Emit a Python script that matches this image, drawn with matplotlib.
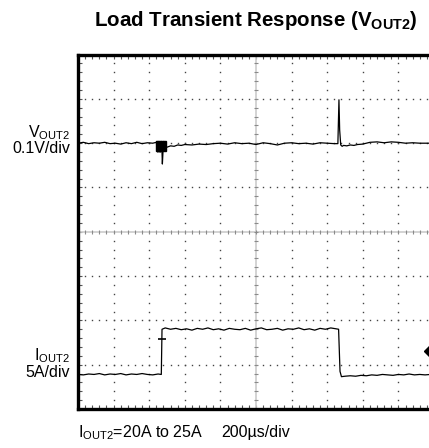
import matplotlib
matplotlib.use("Agg")
import matplotlib.pyplot as plt

plt.rcParams['font.family'] = ['Liberation Sans', 'DejaVu Sans']
plt.rcParams['mathtext.fontset'] = 'custom'
plt.rcParams['mathtext.rm'] = 'Liberation Sans'
plt.rcParams['mathtext.bf'] = 'Liberation Sans:bold'

# scope trace data, in screen divisions (10 x 8 grid)
vout_x = [0.0, 0.15, 0.3, 0.45, 0.6, 0.75, 0.9, 1.05, 1.2, 1.35, 1.5, 1.65, 1.8, 1.95,
          2.1, 2.2, 2.22, 2.24, 2.26, 2.28, 2.30, 2.32, 2.34, 2.36, 2.37, 2.39, 2.41,
          2.43, 2.45, 2.5, 2.6, 2.7, 2.8, 2.9, 3.0, 3.2, 3.4, 3.6, 3.8, 4.0, 4.2, 4.4,
          4.6, 4.8, 5.0, 5.2, 5.4, 5.6, 5.8, 6.0, 6.2, 6.4, 6.6, 6.8, 7.0, 7.2, 7.3,
          7.33, 7.35, 7.38, 7.42, 7.46, 7.55, 7.65, 7.75, 7.85, 8.0, 8.2, 8.4, 8.6,
          8.8, 9.0, 9.2, 9.4, 9.6, 9.8, 10.0]
vout_y = [6.0, 6.02, 5.99, 6.01, 6.0, 6.02, 5.99, 6.0, 5.98, 6.01, 5.99, 6.02, 5.99, 6.01,
          6.0, 6.02, 6.04, 5.80, 6.04, 5.80, 6.04, 5.80, 6.04, 5.80, 5.53, 5.85, 6.04,
          5.82, 5.92, 5.91, 5.94, 5.93, 5.96, 5.95, 5.97, 5.96, 5.98, 5.97, 5.99, 6.0,
          5.98, 6.01, 5.99, 6.0, 5.97, 6.01, 5.99, 5.96, 6.0, 6.01, 5.99, 6.0, 5.98,
          6.01, 6.0, 5.99, 5.99, 6.98, 6.3, 5.96, 5.93, 5.95, 5.94, 5.96, 5.95, 5.97,
          5.98, 6.02, 6.03, 6.01, 6.03, 6.02, 6.0, 6.01, 6.0, 6.0, 6.0]

iout_x = [0.0, 0.15, 0.3, 0.45, 0.6, 0.75, 0.9, 1.05, 1.2, 1.35, 1.5, 1.65, 1.8, 1.95,
          2.1, 2.25, 2.34, 2.36, 2.45, 2.6, 2.75, 2.9, 3.05, 3.2, 3.35, 3.5, 3.65, 3.8,
          3.95, 4.1, 4.25, 4.4, 4.55, 4.7, 4.85, 5.0, 5.15, 5.3, 5.45, 5.6, 5.75, 5.9,
          6.05, 6.2, 6.35, 6.5, 6.65, 6.8, 6.95, 7.1, 7.25, 7.32, 7.36, 7.40, 7.5,
          7.65, 7.8, 7.95, 8.1, 8.25, 8.4, 8.55, 8.7, 8.85, 9.0, 9.15, 9.3, 9.45, 9.6,
          9.75, 9.9, 10.0]
iout_y = [0.78, 0.77, 0.79, 0.78, 0.80, 0.77, 0.79, 0.78, 0.80, 0.77, 0.79, 0.78, 0.80,
          0.78, 0.77, 0.79, 0.78, 1.80, 1.83, 1.80, 1.82, 1.79, 1.81, 1.78, 1.82, 1.80,
          1.83, 1.79, 1.81, 1.78, 1.82, 1.80, 1.79, 1.82, 1.78, 1.81, 1.83, 1.79, 1.80,
          1.82, 1.78, 1.81, 1.80, 1.83, 1.79, 1.81, 1.78, 1.82, 1.80, 1.83, 1.81, 1.80,
          0.85, 0.73, 0.74, 0.75, 0.74, 0.76, 0.75, 0.77, 0.76, 0.78, 0.77, 0.76, 0.78,
          0.77, 0.79, 0.77, 0.78, 0.77, 0.78, 0.78]

# trigger markers
trig_v = (2.33, 5.93)
trig_i = (2.35, 1.58)
trig_level = (9.89, 1.32)

n_xdiv, n_ydiv = 10, 8

fig = plt.figure(figsize=(4.29, 4.48), dpi=100)
ax = fig.add_axes([78/429, 1 - 409/448, (434 - 78)/429, (409 - 54.6)/448])
ax.set_xlim(0, n_xdiv)
ax.set_ylim(0, n_ydiv)

# graticule: dotted major lines
minor_x = [i/5 for i in range(n_xdiv*5 + 1)]
minor_y = [i/5 for i in range(n_ydiv*5 + 1)]
for k in range(1, n_xdiv):
    if k == n_xdiv // 2:
        continue
    ax.plot([k]*len(minor_y), minor_y, ls='none', marker='s', ms=1.0, mew=0,
            color='#444444', clip_on=False)
for k in range(1, n_ydiv):
    if k == n_ydiv // 2:
        continue
    ax.plot(minor_x, [k]*len(minor_x), ls='none', marker='s', ms=1.0, mew=0,
            color='#444444', clip_on=False)

# centre cross with ticks
cx, cy = n_xdiv / 2, n_ydiv / 2
ax.axvline(cx, color='#cccccc', lw=1.2)
ax.axhline(cy, color='#cccccc', lw=1.2)
ax.plot(minor_x, [cy]*len(minor_x), ls='none', marker='|', ms=3.2, mew=0.8, color='#8a8a8a')
ax.plot([cx]*len(minor_y), minor_y, ls='none', marker='_', ms=3.2, mew=0.8, color='#8a8a8a')

# traces
ax.plot(vout_x, vout_y, color='black', lw=0.9)
ax.plot(iout_x, iout_y, color='black', lw=0.9)
ax.plot(*trig_v, marker='s', ms=7, color='black')
ax.plot(*trig_i, marker='_', ms=6, mew=1.2, color='black')
ax.plot(*trig_level, marker='D', ms=6, color='black', clip_on=False)

# frame
for s in ax.spines.values():
    s.set_linewidth(2.4)
ax.set_xticks(range(n_xdiv + 1))
ax.set_yticks(range(n_ydiv + 1))
ax.set_xticks(minor_x, minor=True)
ax.set_yticks(minor_y, minor=True)
ax.tick_params(which='both', direction='in', length=3, width=0.8, color='#555555',
               top=True, right=True, labelbottom=False, labelleft=False)

# labels
fs = 11.5
fig.text(256/429, 1 - 26/448, r'Load Transient Response ($\mathbf{V_{OUT2}}$)',
         ha='center', va='baseline', fontsize=14.8, fontweight='bold')
fig.text(70/429, 1 - 137.5/448, r'$\mathrm{V_{OUT2}}$', ha='right', va='baseline', fontsize=fs)
fig.text(70/429, 1 - 153/448, '0.1V/div', ha='right', va='baseline', fontsize=fs)
fig.text(70/429, 1 - 360/448, r'$\mathrm{I_{OUT2}}$', ha='right', va='baseline', fontsize=fs)
fig.text(70/429, 1 - 377/448, '5A/div', ha='right', va='baseline', fontsize=fs)
fig.text(78/429, 1 - 437/448, r'$\mathrm{I_{OUT2}}$=20A to 25A', ha='left', va='baseline',
         fontsize=fs)
fig.text(221/429, 1 - 437/448, '200µs/div', ha='left', va='baseline', fontsize=fs)

fig.savefig('out.png', dpi=100)
